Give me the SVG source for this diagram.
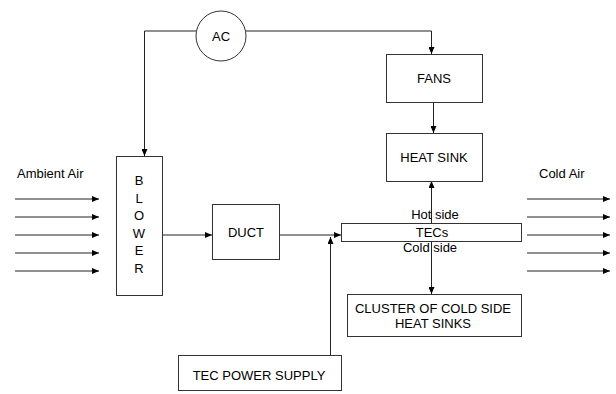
<svg xmlns="http://www.w3.org/2000/svg" width="616" height="394" viewBox="0 0 616 394">
<defs>
<marker id="ah" markerWidth="7" markerHeight="6" refX="7" refY="3" orient="auto" markerUnits="userSpaceOnUse">
<path d="M0,0 L7,3 L0,6 Z" fill="#000"/>
</marker>
<style>
.box{fill:#fff;stroke:#333;stroke-width:1}
.arr{fill:none;stroke:#222;stroke-width:1;marker-end:url(#ah)}
text{font-family:"Liberation Sans",Arial,sans-serif;font-size:13px;fill:#000}
.c{text-anchor:middle}
</style>
</defs>
<rect width="616" height="394" fill="#fff"/>
<g id="connectors">
<path class="arr" d="M196,31 H144.5 V156"/>
<path class="arr" d="M246,31 H431.5 V54"/>
<path class="arr" d="M433.5,102 V133"/>
<path class="arr" d="M162,235 H212"/>
<path class="arr" d="M279,235 H341"/>
<path class="arr" d="M330.5,355 V237"/>
<path class="arr" d="M431.5,223 V181"/>
<path class="arr" d="M431.5,241 V294"/>
<path class="arr" d="M15,199 H99"/>
<path class="arr" d="M15,217 H99"/>
<path class="arr" d="M15,235 H99"/>
<path class="arr" d="M15,253 H99"/>
<path class="arr" d="M15,271 H99"/>
<path class="arr" d="M527,199 H610"/>
<path class="arr" d="M527,217 H610"/>
<path class="arr" d="M527,235 H610"/>
<path class="arr" d="M527,253 H610"/>
<path class="arr" d="M527,271 H610"/>
</g>
<g id="ac">
<circle cx="221" cy="36" r="25" fill="#fff" stroke="#333"/>
<text class="c" x="221" y="40.5">AC</text>
</g>
<g id="fans">
<rect class="box" x="386.5" y="54.5" width="96" height="48"/>
<text class="c" x="434" y="83">FANS</text>
</g>
<g id="heatsink">
<rect class="box" x="386.5" y="133.5" width="96" height="48"/>
<text class="c" x="434" y="162">HEAT SINK</text>
</g>
<g id="blower">
<rect class="box" x="116.5" y="156.5" width="46" height="139"/>
<text class="c" x="139" y="185">B</text>
<text class="c" x="139" y="202.5">L</text>
<text class="c" x="139" y="220">O</text>
<text class="c" x="139" y="237.5">W</text>
<text class="c" x="139" y="255">E</text>
<text class="c" x="139" y="272.5">R</text>
</g>
<g id="duct">
<rect class="box" x="212.5" y="204.5" width="67" height="55"/>
<text class="c" x="246" y="236.5">DUCT</text>
</g>
<g id="tecs">
<rect class="box" x="341.5" y="223.5" width="180" height="18"/>
<text class="c" x="435" y="219">Hot side</text>
<text class="c" x="432" y="237">TECs</text>
<text class="c" x="430" y="252">Cold side</text>
</g>
<g id="cluster">
<rect class="box" x="347.5" y="294.5" width="174" height="42"/>
<text class="c" x="433" y="312.5">CLUSTER OF COLD SIDE</text>
<text class="c" x="433" y="328">HEAT SINKS</text>
</g>
<g id="power">
<rect class="box" x="178.5" y="355.5" width="163" height="35"/>
<text class="c" x="259" y="380">TEC POWER SUPPLY</text>
</g>
<g id="labels">
<text x="17" y="178">Ambient Air</text>
<text x="539" y="178">Cold Air</text>
</g>
</svg>
